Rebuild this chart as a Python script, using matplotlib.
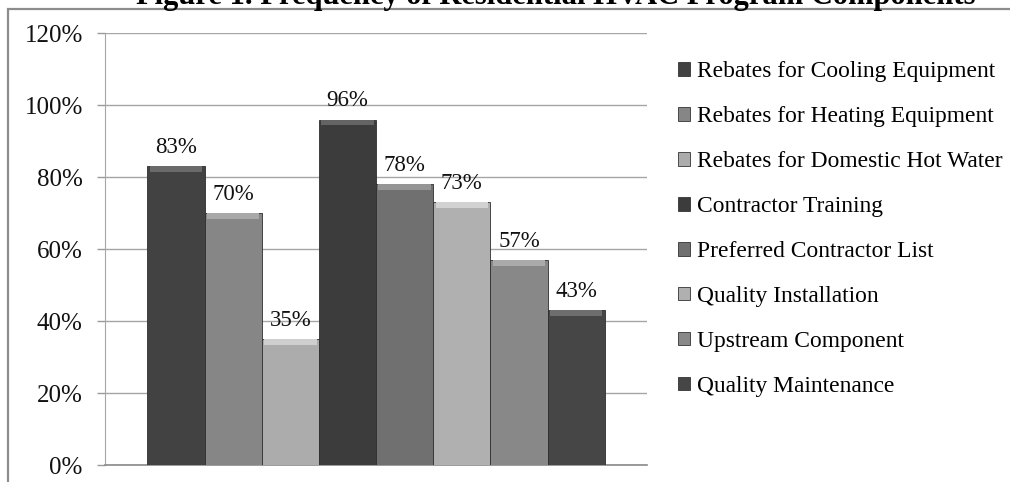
import matplotlib
matplotlib.use("Agg")
import matplotlib.pyplot as plt
from matplotlib.patches import Rectangle, Patch
from matplotlib.ticker import PercentFormatter

plt.rcParams['font.family'] = ['Liberation Serif', 'DejaVu Serif']

components = [
    "Rebates for Cooling Equipment",
    "Rebates for Heating Equipment",
    "Rebates for Domestic Hot Water",
    "Contractor Training",
    "Preferred Contractor List",
    "Quality Installation",
    "Upstream Component",
    "Quality Maintenance",
]
shares = [83, 70, 35, 96, 78, 73, 57, 43]
bar_colors = ["#424242", "#868686", "#acacac", "#3c3c3c",
              "#707070", "#b0b0b0", "#888888", "#464646"]
top_colors = ["#6a6a6a", "#a8a8a8", "#cfcfcf", "#646464",
              "#959595", "#d2d2d2", "#aaaaaa", "#6e6e6e"]
y_ticks = [0, 20, 40, 60, 80, 100, 120]

W, H = 1010, 482
fig = plt.figure(figsize=(W / 100, H / 100), dpi=100)
ax = fig.add_axes([105 / W, 1 - 465 / H, (647 - 105) / W, (465 - 33.3) / H])

x = list(range(len(shares)))
ax.bar(x, shares, width=1.0, color=bar_colors, edgecolor="#2e2e2e",
       linewidth=0.6, zorder=3)
# bevel highlight along each bar top
ax.bar(x, [1.6] * len(shares), bottom=[s - 1.6 for s in shares], width=0.92,
       color=top_colors, linewidth=0, zorder=4)

for xi, s in zip(x, shares):
    ax.annotate(f"{s}%", (xi, s), xytext=(0, 6), textcoords="offset points",
                ha="center", va="bottom", fontsize=16.5, color="#111111")

ax.set_xlim(-0.5 - 0.743, len(shares) - 0.5 + 0.74)
ax.set_ylim(0, 120)
ax.set_yticks(y_ticks)
ax.yaxis.set_major_formatter(PercentFormatter(decimals=0))
ax.tick_params(axis="y", direction="out", length=6, width=1, color="#9a9a9a",
               labelsize=18, pad=10, labelcolor="#111111")
ax.set_xticks([])
ax.grid(axis="y", color="#a6a6a6", linewidth=1, zorder=0)
ax.set_axisbelow(True)
for side in ("top", "right"):
    ax.spines[side].set_visible(False)
ax.spines["left"].set_color("#a6a6a6")
ax.spines["bottom"].set_color("#8a8a8a")
ax.spines["bottom"].set_linewidth(1.2)

handles = [Patch(facecolor=c, edgecolor="#333333", linewidth=0.6) for c in bar_colors]
fig.legend(handles, components, loc="upper left",
           bbox_to_anchor=(669 / W, 1 - 52 / H), frameon=False,
           fontsize=16.9, handlelength=0.5, handleheight=0.5,
           handletextpad=0.3, labelspacing=1.02, borderaxespad=0)

# outer frame of the figure box
fig.patches.append(Rectangle((7.7 / W, -0.1), 1.2, 1.1 - 9 / H,
                             transform=fig.transFigure, fill=False,
                             edgecolor="#8c8c8c", linewidth=1.6))

fig.text(556 / W, 1 - 4 / H, "Figure 1. Frequency of Residential HVAC Program Components",
         ha="center", va="baseline", fontsize=22, fontweight="bold")

fig.savefig("out.png", dpi=100)
